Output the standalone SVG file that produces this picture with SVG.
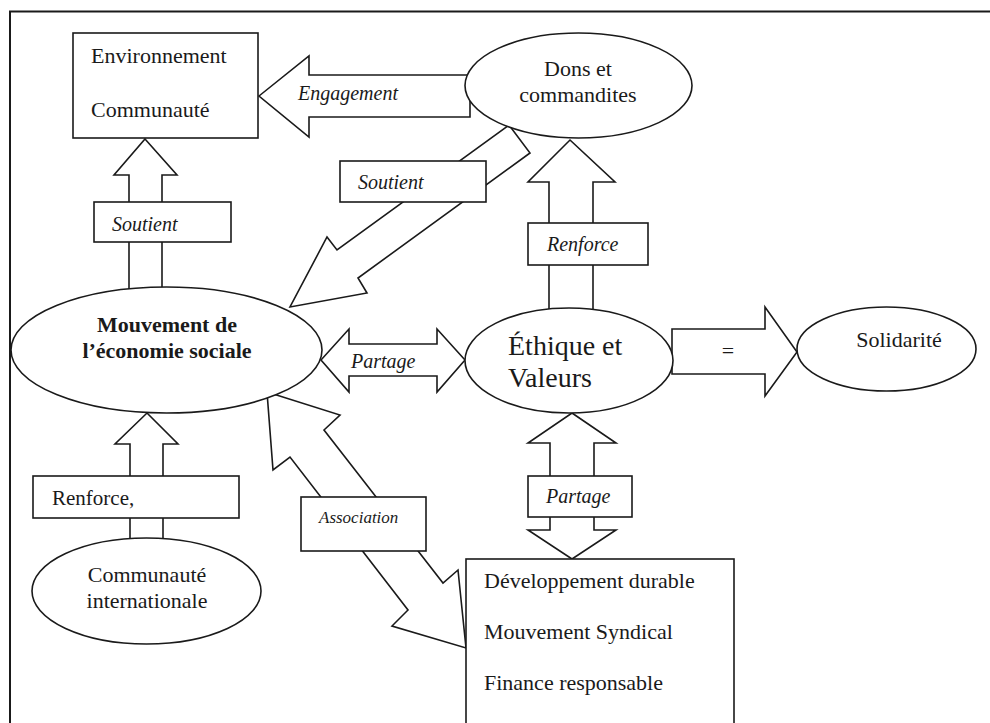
<svg xmlns="http://www.w3.org/2000/svg" width="990" height="723" viewBox="0 0 990 723">
<style>
.sh{fill:#fff;stroke:#1a1a1a;stroke-width:1.6;stroke-linejoin:miter}
.lb{fill:#fff;stroke:#1a1a1a;stroke-width:1.6}
.t{font-family:"Liberation Serif","Times New Roman",serif;font-size:22px;fill:#1a1a1a}
.c{text-anchor:middle}
.i{font-family:"Liberation Serif","Times New Roman",serif;font-style:italic;font-size:20px;fill:#1a1a1a}
.b{font-weight:bold}
</style>
<rect width="990" height="723" fill="#fff"/>
<path d="M10,723 V11.5 H990" fill="none" stroke="#1a1a1a" stroke-width="2"/>
<g id="connectors">
  <polygon class="sh" points="259,96 309,56 309,75 470,75 470,117 309,117 309,137"/>
  <polygon class="sh" points="145,139 177,175 162,175 162,300 129,300 129,175 114,175"/>
  <polygon class="sh" points="509,125 530,153 358,278 367,293 290,307 327,237 337,250"/>
  <polygon class="sh" points="147,413 178,444 163,444 163,548 130,548 130,444 115,444"/>
  <polygon class="sh" points="321,360 349,329 349,344 437,344 437,329 465,360 437,392 437,376 349,376 349,392"/>
  <polygon class="sh" points="570,140 615,182 593,182 593,315 549,315 549,182 528,182"/>
  <polygon class="sh" points="672,329 765,329 765,307 797,352 765,396 765,374 672,374"/>
  <polygon class="sh" points="572,413 616,443 594,443 594,530 616,530 572,559 528,530 550,530 550,443 528,443"/>
  <polygon class="sh" points="267,392 340,415 324,430 443,583 458,570 466,648 392,626 408,610 290,457 273,470"/>
  <rect class="lb" x="94" y="202" width="137" height="40"/>
  <text class="i" x="112" y="231">Soutient</text>
  <text class="i" x="298" y="100">Engagement</text>
  <rect class="lb" x="340" y="161" width="146" height="41"/>
  <text class="i" x="358" y="189">Soutient</text>
  <rect class="lb" x="33" y="476" width="206" height="42"/>
  <text class="t" x="52" y="505" style="font-size:21px">Renforce,</text>
  <text class="i" x="351" y="368">Partage</text>
  <rect class="lb" x="528" y="223" width="120" height="42"/>
  <text class="i" x="547" y="251">Renforce</text>
  <text class="t c" x="728" y="358">=</text>
  <rect class="lb" x="528" y="476" width="104" height="41"/>
  <text class="i" x="546" y="503">Partage</text>
  <rect class="lb" x="301" y="497" width="125" height="54"/>
  <text class="i" x="319" y="523" style="font-size:17px">Association</text>
</g>
<g id="environnement">
  <rect class="sh" x="73" y="33" width="185" height="105"/>
  <text class="t" x="91" y="63">Environnement</text>
  <text class="t" x="91" y="117">Communauté</text>
</g>
<g id="dons">
  <ellipse class="sh" cx="578.5" cy="85.5" rx="113.5" ry="52.5"/>
  <text class="t c" x="578" y="76">Dons et</text>
  <text class="t c" x="578" y="102">commandites</text>
</g>
<g id="mouvement">
  <ellipse class="sh" cx="166.5" cy="350" rx="155.5" ry="63"/>
  <text class="t c b" x="167" y="332">Mouvement de</text>
  <text class="t c b" x="167" y="358">l’économie sociale</text>
</g>
<g id="ethique">
  <ellipse class="sh" cx="569" cy="360.5" rx="104" ry="52.5"/>
  <text class="t" x="508" y="355" style="font-size:28px">Éthique et</text>
  <text class="t" x="508" y="387" style="font-size:28px">Valeurs</text>
</g>
<g id="solidarite">
  <ellipse class="sh" cx="886.5" cy="349" rx="89.5" ry="42"/>
  <text class="t c" x="899" y="347">Solidarité</text>
</g>
<g id="communaute-internationale">
  <ellipse class="sh" cx="146.5" cy="591" rx="114.5" ry="53"/>
  <text class="t c" x="147" y="582">Communauté</text>
  <text class="t c" x="147" y="608">internationale</text>
</g>
<g id="developpement">
  <rect class="sh" x="466" y="559" width="268" height="200"/>
  <text class="t" x="484" y="588">Développement durable</text>
  <text class="t" x="484" y="639">Mouvement Syndical</text>
  <text class="t" x="484" y="690">Finance responsable</text>
</g>
</svg>
